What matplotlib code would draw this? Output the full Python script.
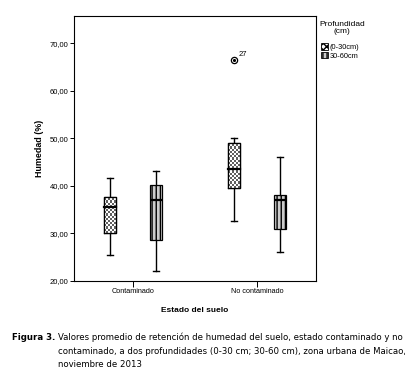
import numpy as np
import matplotlib
matplotlib.use("Agg")
import matplotlib.pyplot as plt
from matplotlib.patches import Patch

# --- data --------------------------------------------------------------------
categories = ["Contaminado", "No contaminado"]
depths = ["(0-30cm)", "30-60cm"]
whislo = [[25.5, 22.0], [32.6, 26.0]]
q1 = [[30.0, 28.6], [39.5, 31.0]]
med = [[35.5, 37.0], [43.5, 37.0]]
q3 = [[37.6, 40.1], [49.0, 38.1]]
whishi = [[41.6, 43.1], [50.0, 46.0]]
outliers = [[[], []], [[66.5], []]]
outlier_ids = [[[], []], [["27"], []]]
yticks = [20, 30, 40, 50, 60, 70]

plt.rcParams["font.family"] = ["Liberation Sans", "DejaVu Sans"]

fig = plt.figure(figsize=(4.06, 3.86), dpi=100)
ax = fig.add_axes([0.182, 0.272, 0.596, 0.6865])

cat_pos = [1, 3]
offset = 0.37
bw = 0.19

checker = np.indices((40, 8)).sum(axis=0) % 2

for i, c in enumerate(cat_pos):
    for j in range(2):
        pos = c + (-offset if j == 0 else offset)
        st = dict(whislo=whislo[i][j], q1=q1[i][j], med=med[i][j], q3=q3[i][j],
                  whishi=whishi[i][j], fliers=outliers[i][j])
        if j == 0:
            fc, hatch = "white", None
        else:
            fc, hatch = "#cccccc", "||||"
        art = ax.bxp([st], positions=[pos], widths=bw, patch_artist=True,
                     showfliers=True, manage_ticks=False,
                     boxprops=dict(facecolor=fc, edgecolor="black", linewidth=0.9, hatch=hatch),
                     medianprops=dict(color="black", linewidth=1.6),
                     whiskerprops=dict(color="black", linewidth=1.0),
                     capprops=dict(color="black", linewidth=1.0),
                     capwidths=bw * 0.5,
                     flierprops=dict(marker="o", markersize=4.5, markerfacecolor="white",
                                     markeredgecolor="black", markeredgewidth=0.9))
        if j == 0:
            # checkerboard fill for the 0-30 cm boxes
            box = art["boxes"][0]
            n_rows = int(round((q3[i][j] - q1[i][j]) / 0.45))
            im = ax.imshow(checker[:n_rows, :6], cmap="gray_r", vmin=0, vmax=1.6,
                           extent=[pos - bw / 2, pos + bw / 2, q1[i][j], q3[i][j]],
                           aspect="auto", interpolation="nearest", zorder=2.1)
            im.set_clip_path(box)
            ax.plot([pos - bw / 2, pos + bw / 2], [med[i][j]] * 2, color="black", lw=1.6, zorder=3)
            ax.plot([pos - bw / 2, pos + bw / 2, pos + bw / 2, pos - bw / 2, pos - bw / 2],
                    [q1[i][j], q1[i][j], q3[i][j], q3[i][j], q1[i][j]], color="black", lw=0.9, zorder=3)
        for v in outliers[i][j]:
            ax.plot(pos, v, marker=".", color="black", markersize=2.5, zorder=4)
        for v, lab in zip(outliers[i][j], outlier_ids[i][j]):
            ax.annotate(lab, (pos, v), xytext=(3, 3), textcoords="offset points",
                        fontsize=5.5)

ax.set_xlim(0.05, 3.95)
ax.set_ylim(20, 75.7)
ax.set_yticks(yticks)
ax.set_yticklabels([f"{v:.2f}".replace(".", ",") for v in yticks], fontsize=5.5)
ax.set_xticks(cat_pos)
ax.set_xticklabels(categories, fontsize=5.2)
ax.tick_params(axis="y", length=3, width=0.7, pad=1)
ax.tick_params(axis="x", length=4, width=0.7, pad=1)
for s in ax.spines.values():
    s.set_linewidth(0.8)
ax.set_ylabel("Humedad (%)", fontsize=6.4, fontweight="bold", labelpad=4)
ax.set_xlabel("Estado del suelo", fontsize=6, fontweight="bold", labelpad=9)

# legend
fig.text(0.843, 0.945, "Profundidad\n(cm)", fontsize=6, ha="center", va="top",
         multialignment="center", linespacing=1.0)
handles = [Patch(facecolor="white", edgecolor="black", hatch="xxxxx", linewidth=0.6),
           Patch(facecolor="#cccccc", edgecolor="black", hatch="||||", linewidth=0.6)]
leg = fig.legend(handles, depths, loc="upper left", bbox_to_anchor=(0.79, 0.888),
                 fontsize=5.3, frameon=False,
                 handlelength=1.0, handleheight=1.0, handletextpad=0.15,
                 labelspacing=0.1, borderaxespad=0, borderpad=0)

# caption
cap_font = dict(family=["DejaVu Sans"], fontstretch="condensed")
lines = ["Valores promedio de retención de humedad del suelo, estado contaminado y no",
         "contaminado, a dos profundidades (0-30 cm; 30-60 cm), zona urbana de Maicao,",
         "noviembre de 2013"]
renderer = fig.canvas.get_renderer()
probe = fig.text(0, 0, lines[0], fontsize=8, **cap_font)
w = probe.get_window_extent(renderer).width
probe.remove()
fs = 8 * 340 / w

fig.text(12 / 406, 1 - 333 / 386, "Figura 3.", fontsize=fs, fontweight="bold", va="top", **cap_font)
for k, line in enumerate(lines):
    fig.text(58 / 406, 1 - (333 + 13.5 * k) / 386, line, fontsize=fs, va="top", **cap_font)

fig.savefig("out.png", dpi=100)
